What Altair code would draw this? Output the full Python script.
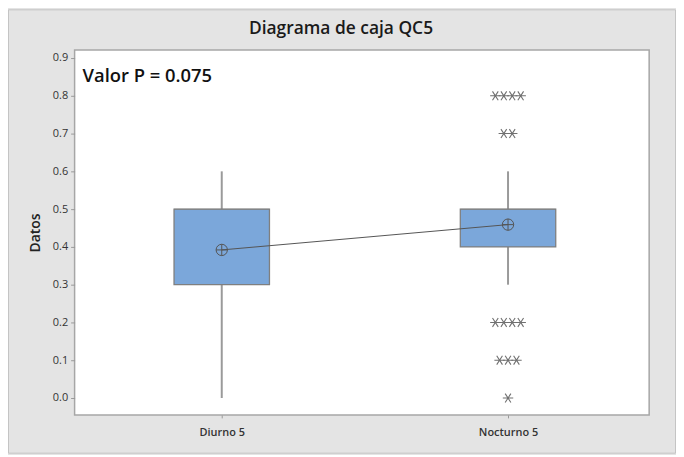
import altair as alt
import pandas as pd

# ---- data ----
categories = ["Diurno 5", "Nocturno 5"]
q1 = [0.3, 0.4]
median = [0.5, 0.5]
q3 = [0.5, 0.5]
whisker_low = [0.0, 0.3]
whisker_high = [0.6, 0.6]
means = [0.392, 0.459]

outlier_category = ["Nocturno 5", "Nocturno 5", "Nocturno 5", "Nocturno 5", "Nocturno 5"]
outlier_values = [0.8, 0.7, 0.2, 0.1, 0.0]
outlier_counts = [4, 2, 4, 3, 1]

y_ticks = [0.0, 0.1, 0.2, 0.3, 0.4, 0.5, 0.6, 0.7, 0.8, 0.9]
chart_title = "Diagrama de caja QC5"
p_value_text = "Valor P = 0.075"

# ---- style ----
FONT = "Open Sans"
W, H = 578, 367
PAD = {"left": 67, "top": 41, "right": 27, "bottom": 39}
SLOT = 0.0295  # horizontal spread of repeated outliers (in category units)

boxes = pd.DataFrame({
    "cat": categories,
    "pos": list(range(len(categories))),
    "q1": q1, "median": median, "q3": q3,
    "lo": whisker_low, "hi": whisker_high, "mean": means,
})

rows = []
for c, v, n in zip(outlier_category, outlier_values, outlier_counts):
    p = categories.index(c)
    for k in range(n):
        rows.append({"cat": c, "value": v, "xo": p + (k - (n - 1) / 2) * SLOT})
outliers = pd.DataFrame(rows)

xscale = alt.Scale(domain=[-0.514, 1.493], nice=False, zero=False, padding=0)
yscale = alt.Scale(domain=[-0.0447, 0.921], nice=False, zero=False, padding=0)

label_expr = "[" + ",".join("'" + c + "'" for c in categories) + "][datum.value]"
xaxis = alt.Axis(values=list(range(len(categories))), labelExpr=label_expr, title=None,
                 grid=False, domain=False, tickSize=3, tickColor="#999",
                 labelFont=FONT, labelFontSize=11, labelFontWeight=600, labelColor="#333",
                 labelPadding=9)
yaxis = alt.Axis(values=y_ticks, format=".1f", title="Datos", grid=False, domain=False,
                 tickSize=4, tickColor="#999", labelFont=FONT, labelFontSize=11,
                 labelColor="#333", labelPadding=3,
                 titleFont=FONT, titleFontSize=14, titleFontWeight=600, titleColor="#222",
                 titleX=-39, titleY=H / 2, titleBaseline="middle", titleAlign="center", titleAngle=-90)

X = alt.X("pos:Q", scale=xscale, axis=xaxis)
base = alt.Chart(boxes)

whisk_low = base.mark_rule(color="#9a9a9a", strokeWidth=2).encode(
    x=X, y=alt.Y("lo:Q", scale=yscale, axis=yaxis), y2="q1:Q")
whisk_high = base.mark_rule(color="#9a9a9a", strokeWidth=2).encode(
    x=X, y=alt.Y("q3:Q", scale=yscale), y2="hi:Q")
box = base.mark_bar(size=96, orient="vertical", fill="#7BA7DA", stroke="#7f7f7f",
                    strokeWidth=1.3).encode(x=X, y=alt.Y("q1:Q", scale=yscale), y2="q3:Q")
med = base.mark_tick(size=96, thickness=1, color="#7f7f7f", orient="horizontal").encode(
    x=X, y=alt.Y("median:Q", scale=yscale))
mean_line = base.mark_line(color="#555555", strokeWidth=1).encode(
    x=X, y=alt.Y("mean:Q", scale=yscale))
circle_plus = "M-1,0A1,1,0,1,1,1,0A1,1,0,1,1,-1,0ZM-1,0H1M0,-1V1"
mean_pts = base.mark_point(shape=circle_plus, size=130, filled=False, stroke="#555555",
                           strokeWidth=1, opacity=1).encode(
    x=X, y=alt.Y("mean:Q", scale=yscale))

asterisk = "M-1,0H1M-0.55,-0.85L0.55,0.85M-0.55,0.85L0.55,-0.85"
out_pts = alt.Chart(outliers).mark_point(shape=asterisk, size=110, filled=False,
                                         stroke="#707070", strokeWidth=1.1, opacity=1).encode(
    x=alt.X("xo:Q", scale=xscale), y=alt.Y("value:Q", scale=yscale))

one = pd.DataFrame({"t": [chart_title], "p": [p_value_text]})
title_mark = alt.Chart(one).mark_text(font=FONT, fontSize=17.5, fontWeight=600, color="#1a1a1a",
                                      align="center", baseline="middle").encode(
    text="t:N", x=alt.value(268), y=alt.value(-21))
p_mark = alt.Chart(one).mark_text(font=FONT, fontSize=18.5, fontWeight=600, color="#111",
                                  align="left", baseline="middle").encode(
    text="p:N", x=alt.value(8), y=alt.value(26))
frame = alt.Chart(one).mark_rect(fillOpacity=0, stroke="#c4c4c4", strokeWidth=1).encode(
    x=alt.value(-PAD["left"] + 0.5), x2=alt.value(W + PAD["right"] - 0.5),
    y=alt.value(-PAD["top"] + 0.5), y2=alt.value(H + PAD["bottom"] - 0.5))

chart = alt.layer(whisk_low, whisk_high, box, med, mean_line, mean_pts, out_pts,
                  title_mark, p_mark, frame).properties(
    width=W, height=H, autosize=alt.AutoSizeParams(type="none"), padding=PAD,
    background="#e4e4e4",
).configure_view(fill="white", stroke="#a6a6a6", strokeWidth=1.5)

chart.save("out.html", embed_options={"renderer": "svg", "actions": False})
